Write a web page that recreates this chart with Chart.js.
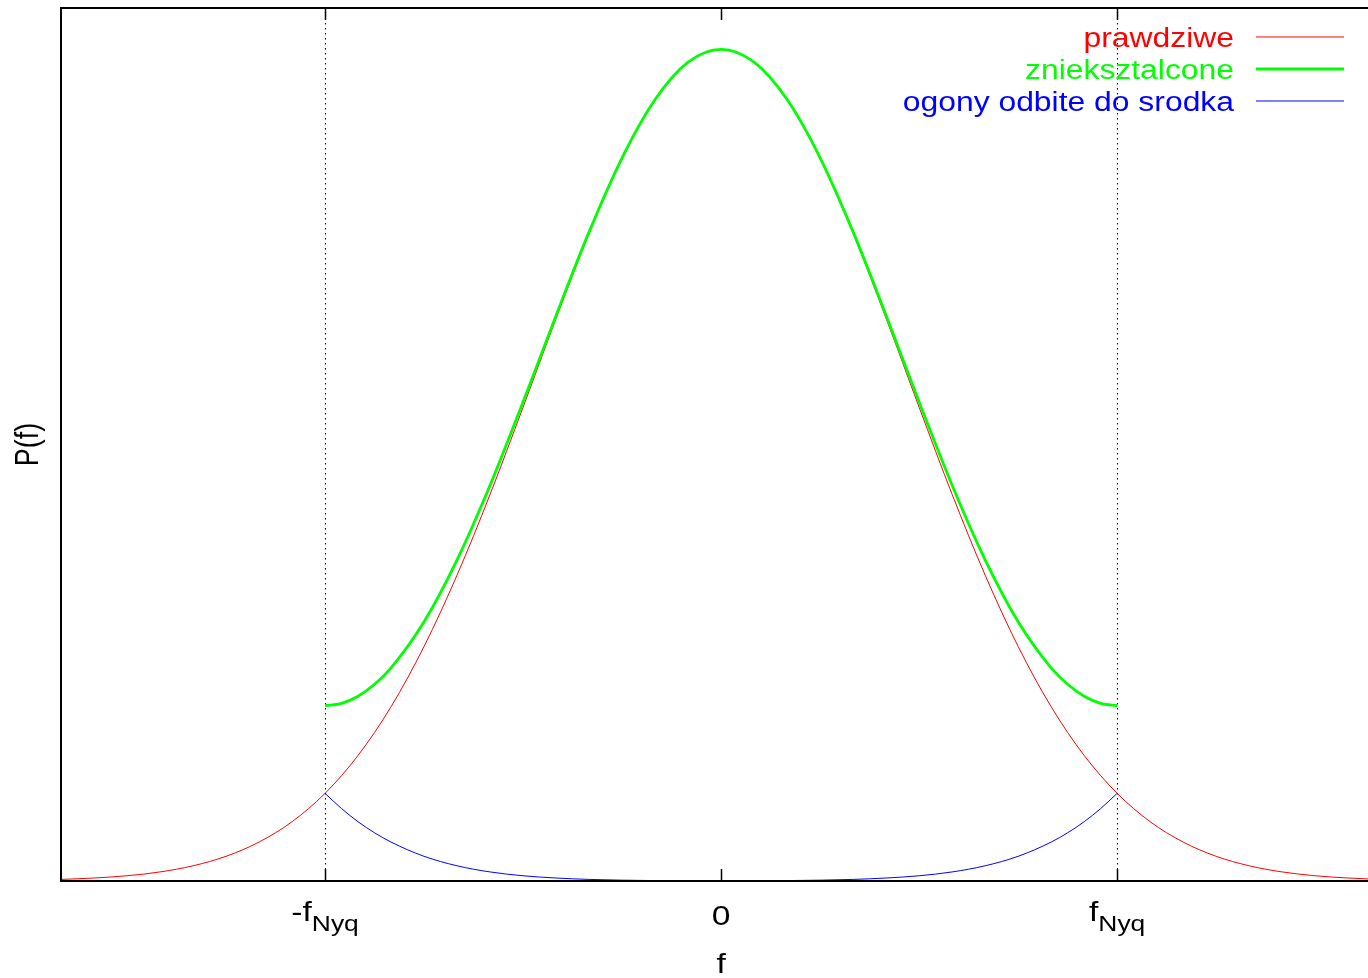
<!DOCTYPE html>
<html><head><meta charset="utf-8">
<script src="https://cdn.jsdelivr.net/npm/chart.js@4/dist/chart.umd.min.js"></script>
<style>html,body{margin:0;padding:0;background:#fff;overflow:hidden}</style>
</head><body>
<canvas id="c" width="1368" height="978"></canvas>
<script>
// ---- data ----
const freqAll = [-5,-4.75,-4.5,-4.25,-4,-3.75,-3.5,-3.25,-3,-2.75,-2.5,-2.25,-2,-1.75,-1.5,-1.25,-1,-0.75,-0.5,-0.25,0,
  0.25,0.5,0.75,1,1.25,1.5,1.75,2,2.25,2.5,2.75,3,3.25,3.5,3.75,4,4.25,4.5,4.75,5];
const prawdziwe = [0.0019,0.0036,0.0063,0.0109,0.0183,0.0297,0.0468,0.0713,0.1054,0.1510,0.2096,0.2821,0.3679,0.4650,0.5698,0.6766,0.7788,0.8688,0.9394,0.9845,1.0000,
  0.9845,0.9394,0.8688,0.7788,0.6766,0.5698,0.4650,0.3679,0.2821,0.2096,0.1510,0.1054,0.0713,0.0468,0.0297,0.0183,0.0109,0.0063,0.0036,0.0019];
const freqIn = [-3,-2.875,-2.75,-2.625,-2.5,-2.25,-2,-1.75,-1.5,-1.25,-1,-0.75,-0.5,-0.25,0,
  0.25,0.5,0.75,1,1.25,1.5,1.75,2,2.25,2.5,2.625,2.75,2.875,3];
const znieksztalcone = [0.2108,0.2137,0.2223,0.2366,0.2564,0.3118,0.3862,0.4759,0.5761,0.6802,0.7807,0.8698,0.9399,0.9848,1.0002,
  0.9848,0.9399,0.8698,0.7807,0.6802,0.5761,0.4759,0.3862,0.3118,0.2564,0.2366,0.2223,0.2137,0.2108];
const ogony = [0.1054,0.0871,0.0713,0.0580,0.0468,0.0297,0.0183,0.0109,0.0063,0.0036,0.0019,0.0010,0.0005,0.0003,0.0002,
  0.0003,0.0005,0.0010,0.0019,0.0036,0.0063,0.0109,0.0183,0.0297,0.0468,0.0580,0.0713,0.0871,0.1054];
const xTickValues = [-3, 0, 3];
const xTickMain = ['-f', '0', 'f'];
const xTickSub = ['Nyq', '', 'Nyq'];
const nyquistLines = [-3, 3];
const seriesNames = ['prawdziwe', 'znieksztalcone', 'ogony odbite do srodka'];
const seriesColors = ['#ff0000', '#00ff00', '#0000ff'];
const seriesWidths = [1, 2.8, 1];
const xTitle = 'f';
const yTitle = 'P(f)';

const SX = 1.2; // horizontal stretch of text in the original
const FONT = '"Liberation Sans", Arial, sans-serif';

function pts(xs, ys){ return xs.map((x,i)=>({x:x, y:ys[i]})); }

function stretchedText(ctx, txt, x, y, size, color, align, sx){
  ctx.save();
  ctx.translate(x, y);
  ctx.scale(sx || SX, 1);
  ctx.font = size + 'px ' + FONT;
  ctx.fillStyle = color;
  ctx.textAlign = align || 'left';
  ctx.textBaseline = 'alphabetic';
  ctx.fillText(txt, 0, 0);
  ctx.restore();
}

const decor = {
  id: 'decor',
  beforeDatasetsDraw(chart){
    const ctx = chart.ctx, a = chart.chartArea, xs = chart.scales.x;
    ctx.save();
    ctx.strokeStyle = '#000';
    ctx.lineWidth = 1;
    ctx.setLineDash([1.5, 3.5]);
    nyquistLines.forEach(v=>{
      const px = Math.round(xs.getPixelForValue(v)) + 0.5;
      ctx.beginPath(); ctx.moveTo(px, a.top); ctx.lineTo(px, a.bottom); ctx.stroke();
    });
    ctx.restore();
  },
  afterDraw(chart){
    const ctx = chart.ctx, a = chart.chartArea, xs = chart.scales.x;
    ctx.save();
    // border (left, top, bottom)
    ctx.strokeStyle = '#000';
    ctx.lineWidth = 2;
    ctx.beginPath();
    ctx.moveTo(chart.width + 5, a.top);
    ctx.lineTo(a.left, a.top);
    ctx.lineTo(a.left, a.bottom);
    ctx.lineTo(chart.width + 5, a.bottom);
    ctx.stroke();
    // ticks (bottom and mirrored top)
    ctx.lineWidth = 1.5;
    xTickValues.forEach(v=>{
      const px = Math.round(xs.getPixelForValue(v)) + 0.5;
      ctx.beginPath();
      ctx.moveTo(px, a.bottom); ctx.lineTo(px, a.bottom - 12);
      ctx.moveTo(px, a.top); ctx.lineTo(px, a.top + 12);
      ctx.stroke();
    });
    // tick labels with subscripts
    const mainSize = 28, subSize = 22;
    xTickValues.forEach((v,i)=>{
      const cx = xs.getPixelForValue(v);
      ctx.font = mainSize + 'px ' + FONT;
      const w1 = ctx.measureText(xTickMain[i]).width * SX;
      ctx.font = subSize + 'px ' + FONT;
      const w2 = xTickSub[i] ? ctx.measureText(xTickSub[i]).width * SX : 0;
      const x0 = cx - (w1 + w2) / 2;
      const base = xTickSub[i] ? 921 : 925;
      stretchedText(ctx, xTickMain[i], x0, base, mainSize, '#000', 'left');
      if (xTickSub[i]) stretchedText(ctx, xTickSub[i], x0 + w1, base + 10, subSize, '#000', 'left');
    });
    // axis titles
    stretchedText(ctx, xTitle, xs.getPixelForValue(0), 973, 28, '#000', 'center');
    ctx.save();
    ctx.translate(38, (a.top + a.bottom) / 2);
    ctx.scale(SX, 1);
    ctx.rotate(-Math.PI / 2);
    ctx.font = '27px ' + FONT;
    ctx.fillStyle = '#000';
    ctx.textAlign = 'center';
    ctx.textBaseline = 'alphabetic';
    ctx.fillText(yTitle, 0, 0);
    ctx.restore();
    // legend (text right, sample line on the right)
    seriesNames.forEach((name,i)=>{
      const y = 37 + i * 32;
      stretchedText(ctx, name, 1234, y + 10, 27, seriesColors[i], 'right', 1.18);
      ctx.strokeStyle = seriesColors[i];
      ctx.lineWidth = seriesWidths[i];
      ctx.beginPath(); ctx.moveTo(1256, y); ctx.lineTo(1344, y); ctx.stroke();
    });
    ctx.restore();
  }
};

new Chart(document.getElementById('c'), {
  type: 'line',
  data: {
    datasets: [
      { label: seriesNames[0], data: pts(freqAll, prawdziwe), borderColor: seriesColors[0], borderWidth: seriesWidths[0], order: 3 },
      { label: seriesNames[1], data: pts(freqIn, znieksztalcone), borderColor: seriesColors[1], borderWidth: seriesWidths[1], order: 2 },
      { label: seriesNames[2], data: pts(freqIn, ogony), borderColor: seriesColors[2], borderWidth: seriesWidths[2], order: 1 }
    ]
  },
  options: {
    responsive: false,
    devicePixelRatio: 1,
    animation: false,
    layout: { padding: { left: 61, top: 8, right: 0, bottom: 97 } },
    elements: { point: { radius: 0 }, line: { cubicInterpolationMode: 'monotone', fill: false } },
    plugins: { legend: { display: false }, tooltip: { enabled: false } },
    scales: {
      x: { type: 'linear', min: -5, max: 4.9, display: false },
      y: { type: 'linear', min: 0, max: 1.05, display: false }
    }
  },
  plugins: [decor]
});
</script>
</body></html>
